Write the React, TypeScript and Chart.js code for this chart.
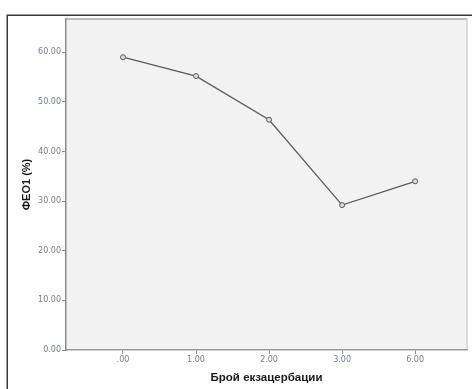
import React, { useEffect, useRef } from "react";
import { Chart, registerables } from "chart.js";

Chart.register(...registerables);

const categories = [".00", "1.00", "2.00", "3.00", "6.00"];
const fev1Values = [59.0, 55.2, 46.4, 29.2, 34.0];
const yTickValues = [0, 10, 20, 30, 40, 50, 60];
const xTitle = "Брой екзацербации";
const yTitle = "ФЕО1 (%)";

const framePlugin = {
  id: "frame",
  beforeDraw(chart: any) {
    const { ctx, chartArea } = chart;
    ctx.save();
    ctx.fillStyle = "#ffffff";
    ctx.fillRect(0, 0, chart.width, chart.height);
    ctx.strokeStyle = "#3a3a3a";
    ctx.lineWidth = 1.5;
    ctx.strokeRect(7.25, 15.25, chart.width + 20, chart.height + 20);
    ctx.fillStyle = "#f2f2f2";
    ctx.fillRect(chartArea.left, chartArea.top, chartArea.right - chartArea.left, chartArea.bottom - chartArea.top);
    ctx.strokeStyle = "#a8a8a8";
    ctx.lineWidth = 1.5;
    ctx.beginPath();
    ctx.moveTo(chartArea.left, chartArea.top);
    ctx.lineTo(chartArea.right, chartArea.top);
    ctx.stroke();
    ctx.strokeStyle = "#d0d0d0";
    ctx.beginPath();
    ctx.moveTo(chartArea.right, chartArea.top);
    ctx.lineTo(chartArea.right, chartArea.bottom);
    ctx.stroke();
    ctx.restore();
  },
};

export default function App() {
  const ref = useRef<HTMLCanvasElement | null>(null);
  useEffect(() => {
    if (!ref.current) return;
    const chart = new Chart(ref.current, {
      type: "line",
      data: {
        datasets: [
          {
            data: fev1Values.map((v, i) => ({ x: i, y: v })),
            borderColor: "#5a5a5a",
            borderWidth: 1.3,
            pointRadius: 2.5,
            pointBorderWidth: 1,
            pointBorderColor: "#5a5a5a",
            pointBackgroundColor: "#dcdcdc",
            fill: false,
            tension: 0,
          },
        ],
      },
      options: {
        responsive: false,
        animation: false,
        layout: { padding: { top: 19, right: 3, left: 0, bottom: 0 } },
        plugins: { legend: { display: false }, tooltip: { enabled: false } },
        scales: {
          x: {
            type: "linear",
            min: -0.78,
            max: 4.71,
            afterBuildTicks(scale: any) {
              scale.ticks = categories.map((_, i) => ({ value: i }));
            },
            afterFit(scale: any) {
              scale.height = 39;
            },
            ticks: {
              autoSkip: false,
              maxRotation: 0,
              padding: 1,
              color: "#767b86",
              font: { family: "DejaVu Sans", size: 8 },
              callback: (v: any) => categories[Math.round(Number(v))] ?? "",
            },
            grid: { drawOnChartArea: false, drawTicks: true, tickLength: 4, color: "#8a8a8a", lineWidth: 1 },
            border: { color: "#9a9a9a", width: 1.5 },
            title: {
              display: true,
              text: xTitle,
              color: "#1a1a1a",
              font: { family: "Liberation Sans", size: 11.5, weight: "bold" },
              padding: { top: 0, bottom: 4 },
            },
          },
          y: {
            type: "linear",
            min: 0,
            max: 66.7,
            afterBuildTicks(scale: any) {
              scale.ticks = yTickValues.map((v) => ({ value: v }));
            },
            afterFit(scale: any) {
              scale.width = 66;
            },
            ticks: {
              padding: 1,
              color: "#767b86",
              font: { family: "DejaVu Sans", size: 8 },
              callback: (v: any) => Number(v).toFixed(2),
            },
            grid: { drawOnChartArea: false, drawTicks: true, tickLength: 4, color: "#8a8a8a", lineWidth: 1 },
            border: { color: "#8a8a8a", width: 1.5 },
            title: {
              display: true,
              text: yTitle,
              color: "#1a1a1a",
              font: { family: "Liberation Sans", size: 11, weight: "bold" },
              padding: { top: 20, bottom: 0 },
            },
          },
        },
      },
      plugins: [framePlugin],
    });
    return () => chart.destroy();
  }, []);
  return (
    <div style={{ position: "absolute", left: 0, top: 0, width: 472, height: 389 }}>
      <canvas ref={ref} width={472} height={389} style={{ display: "block" }} />
    </div>
  );
}
